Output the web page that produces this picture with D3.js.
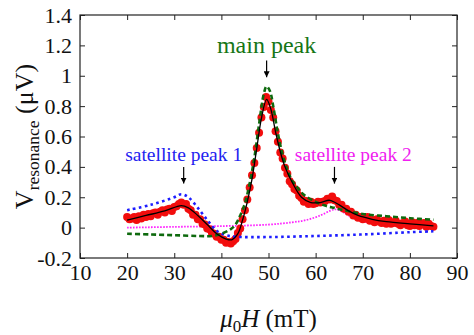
<!DOCTYPE html>
<html>
<head>
<meta charset="utf-8">
<script src="https://cdn.jsdelivr.net/npm/d3@7"></script>
<style>
  html, body { margin: 0; padding: 0; background: #fff; }
  svg, svg text { font-family: "Liberation Serif", "Times New Roman", serif; }
</style>
</head>
<body>
<div id="chart"></div>
<script>
const SERIF = '"Liberation Serif", "Times New Roman", serif';

// Measured signal (red dots)
const fieldMT = [
  20, 20.5, 21, 21.5, 22, 22.5, 23, 23.5, 24, 24.5, 25, 25.5, 26, 26.5, 27, 27.5, 28, 28.5, 29, 29.5,
  30, 30.5, 31, 31.5, 32, 32.5, 33, 33.5, 34, 34.5, 35, 35.5, 36, 36.5, 37, 37.5, 38, 38.5, 39, 39.5,
  40, 40.5, 41, 41.5, 42, 42.5, 43, 43.5, 44, 44.5, 45, 45.5, 46, 46.5, 47, 47.5, 48, 48.5, 49, 49.5,
  50, 50.5, 51, 51.5, 52, 52.5, 53, 53.5, 54, 54.5, 55, 55.5, 56, 56.5, 57, 57.5, 58, 58.5, 59, 59.5,
  60, 60.5, 61, 61.5, 62, 62.5, 63, 63.5, 64, 64.5, 65, 65.5, 66, 66.5, 67, 67.5, 68, 68.5, 69, 69.5,
  70, 70.5, 71, 71.5, 72, 72.5, 73, 73.5, 74, 74.5, 75, 75.5, 76, 76.5, 77, 77.5, 78, 78.5, 79, 79.5,
  80, 80.5, 81, 81.5, 82, 82.5, 83, 83.5, 84, 84.5, 85
];
const measured = [
  0.07, 0.055, 0.06, 0.07, 0.05, 0.075, 0.06, 0.085, 0.07, 0.09, 0.075, 0.095, 0.1, 0.085, 0.105, 0.115, 0.1, 0.12, 0.125, 0.11,
  0.135, 0.14, 0.155, 0.165, 0.15, 0.155, 0.125, 0.115, 0.085, 0.085, 0.055, 0.055, 0.025, 0.02, -0.005, -0.01, -0.035, -0.04, -0.06, -0.06,
  -0.08, -0.08, -0.1, -0.095, -0.105, -0.09, -0.075, -0.035, -0.005, 0.055, 0.115, 0.185, 0.265, 0.345, 0.425, 0.525, 0.625, 0.725, 0.795, 0.86,
  0.83, 0.775, 0.725, 0.635, 0.565, 0.495, 0.455, 0.395, 0.355, 0.305, 0.285, 0.255, 0.245, 0.21, 0.195, 0.17, 0.175, 0.155, 0.17, 0.155,
  0.16, 0.17, 0.165, 0.17, 0.175, 0.19, 0.185, 0.205, 0.18, 0.175, 0.15, 0.15, 0.125, 0.125, 0.105, 0.105, 0.08, 0.085, 0.065, 0.07,
  0.055, 0.06, 0.07, 0.045, 0.05, 0.035, 0.055, 0.04, 0.03, 0.045, 0.025, 0.05, 0.025, 0.03, 0.045, 0.025, 0.015, 0.03, 0.04, 0.015,
  0.01, 0.035, 0.015, 0.03, 0.01, 0.025, 0.03, 0.005, 0.025, 0.01, 0.005
];

// Total fit (black line)
const fitX = [20, 24, 28, 31.5, 33, 35, 37, 39, 41, 42.2, 43.5, 44.5, 45.5, 46.5, 47.5, 48.5, 49.6, 50.5, 51.5, 52.5, 53.5, 55, 57, 59, 61, 63, 65, 67, 69, 72, 75, 80, 85];
const fitY = [0.05, 0.08, 0.11, 0.145, 0.13, 0.08, 0.02, -0.04, -0.075, -0.08, -0.04, 0.05, 0.17, 0.32, 0.52, 0.72, 0.845, 0.78, 0.63, 0.5, 0.4, 0.3, 0.2, 0.165, 0.165, 0.18, 0.15, 0.11, 0.08, 0.055, 0.04, 0.025, 0.012];

// Main peak component (green dashed)
const mainX = [20, 25, 30, 35, 38, 40, 42, 43, 44, 45, 46, 47, 48, 49, 49.6, 50.3, 51, 52, 53, 54, 55, 56, 57, 58, 60, 62, 64, 66, 70, 75, 80, 85];
const mainY = [-0.04, -0.045, -0.05, -0.055, -0.055, -0.04, -0.01, 0.02, 0.08, 0.16, 0.29, 0.46, 0.68, 0.88, 0.93, 0.9, 0.8, 0.62, 0.48, 0.38, 0.31, 0.27, 0.23, 0.205, 0.17, 0.145, 0.13, 0.115, 0.09, 0.075, 0.062, 0.052];

// Satellite peak 1 component (blue dotted)
const sat1X = [20, 25, 30, 31.5, 33, 35, 37, 39, 41, 43, 50, 60, 70, 80, 85];
const sat1Y = [0.115, 0.15, 0.2, 0.22, 0.2, 0.13, 0.05, -0.02, -0.05, -0.06, -0.062, -0.055, -0.045, -0.03, -0.024];

// Satellite peak 2 component (magenta dotted)
const sat2X = [20, 30, 40, 50, 55, 58, 61, 63, 64, 65, 67, 69, 72, 76, 80, 85];
const sat2Y = [0.0, 0.005, 0.01, 0.02, 0.035, 0.05, 0.08, 0.11, 0.12, 0.115, 0.08, 0.05, 0.03, 0.02, 0.015, 0.012];

// Annotations
const noteText = ["main peak", "satellite peak 1", "satellite peak 2"];
const noteTextX = [49.6, 32, 68];
const noteTextY = [1.15, 0.44, 0.44];
const noteArrowX = [49.6, 32, 64];
const noteArrowTop = [1.1, 0.4, 0.4];
const noteArrowBottom = [0.99, 0.29, 0.29];
const noteColor = ["#167616", "#2323f0", "#f020f0"];
const noteSize = [24, 19.5, 19.5];

const xTicks = [10, 20, 30, 40, 50, 60, 70, 80, 90];
const yTicks = [-0.2, 0, 0.2, 0.4, 0.6, 0.8, 1, 1.2, 1.4];

const W = 474, H = 335;
const plot = { left: 80, right: 457, top: 15, bottom: 258 };

const x = d3.scaleLinear().domain([10, 90]).range([plot.left, plot.right]);
const y = d3.scaleLinear().domain([-0.2, 1.4]).range([plot.bottom, plot.top]);

const svg = d3.select('#chart').append('svg')
  .attr('width', W)
  .attr('height', H)
  .attr('font-family', SERIF);

const fmt = (d) => String(+d.toFixed(1));

// Axes with inward ticks
const tickLen = 5;
const styleAxis = (g) => {
  g.attr('font-family', SERIF);
  g.select('.domain').remove();
  g.selectAll('text').attr('font-size', 22).attr('fill', '#111');
};

svg.append('g')
  .attr('transform', `translate(0,${plot.bottom})`)
  .call(d3.axisBottom(x).tickValues(xTicks).tickSizeInner(-tickLen).tickSizeOuter(0).tickPadding(6).tickFormat(fmt))
  .call(styleAxis);

svg.append('g')
  .attr('transform', `translate(${plot.left},0)`)
  .call(d3.axisLeft(y).tickValues(yTicks).tickSizeInner(-tickLen).tickSizeOuter(0).tickPadding(8).tickFormat(fmt))
  .call(styleAxis);

svg.append('g')
  .attr('transform', `translate(0,${plot.top})`)
  .call(d3.axisTop(x).tickValues(xTicks).tickSizeInner(-tickLen).tickSizeOuter(0).tickFormat(''))
  .call(styleAxis);

svg.append('g')
  .attr('transform', `translate(${plot.right},0)`)
  .call(d3.axisRight(y).tickValues(yTicks).tickSizeInner(-tickLen).tickSizeOuter(0).tickFormat(''))
  .call(styleAxis);

svg.selectAll('.tick line').attr('stroke', '#222');

// Frame
svg.append('rect')
  .attr('x', plot.left)
  .attr('y', plot.top)
  .attr('width', plot.right - plot.left)
  .attr('height', plot.bottom - plot.top)
  .attr('fill', 'none')
  .attr('stroke', '#222')
  .attr('stroke-width', 1.2);

const line = (xs, ys) => d3.line()
  .x((d, i) => x(xs[i]))
  .y((d, i) => y(ys[i]))
  .curve(d3.curveCatmullRom.alpha(0.5))(xs);

// Satellite peak 2 (magenta dotted)
svg.append('path')
  .attr('d', line(sat2X, sat2Y))
  .attr('fill', 'none')
  .attr('stroke', '#ff20ff')
  .attr('stroke-width', 1.8)
  .attr('stroke-dasharray', '1.6,1.4');

// Measured data
svg.append('g')
  .selectAll('circle')
  .data(fieldMT)
  .join('circle')
  .attr('cx', (d) => x(d))
  .attr('cy', (d, i) => y(measured[i]))
  .attr('r', 4)
  .attr('fill', '#f20d0d');

// Satellite peak 1 (blue dotted)
svg.append('path')
  .attr('d', line(sat1X, sat1Y))
  .attr('fill', 'none')
  .attr('stroke', '#1d1dff')
  .attr('stroke-width', 2.6)
  .attr('stroke-dasharray', '2.6,3.4');

// Main peak (green dashed)
svg.append('path')
  .attr('d', line(mainX, mainY))
  .attr('fill', 'none')
  .attr('stroke', '#0e6a0e')
  .attr('stroke-width', 2.6)
  .attr('stroke-dasharray', '5,3');

// Total fit
svg.append('path')
  .attr('d', line(fitX, fitY))
  .attr('fill', 'none')
  .attr('stroke', '#000')
  .attr('stroke-width', 1.3);

// Annotations with arrows
svg.append('defs').append('marker')
  .attr('id', 'arrow')
  .attr('viewBox', '0 0 10 10')
  .attr('refX', 10)
  .attr('refY', 5)
  .attr('markerWidth', 6)
  .attr('markerHeight', 6)
  .attr('markerUnits', 'userSpaceOnUse')
  .attr('orient', 'auto')
  .append('path')
  .attr('d', 'M0,0L10,5L0,10Z')
  .attr('fill', '#000');

const notes = svg.append('g');
noteText.forEach((t, i) => {
  notes.append('text')
    .attr('x', x(noteTextX[i]))
    .attr('y', y(noteTextY[i]))
    .attr('text-anchor', 'middle')
    .attr('font-family', SERIF)
    .attr('font-size', noteSize[i])
    .attr('fill', noteColor[i])
    .text(t);
  notes.append('line')
    .attr('x1', x(noteArrowX[i]))
    .attr('x2', x(noteArrowX[i]))
    .attr('y1', y(noteArrowTop[i]))
    .attr('y2', y(noteArrowBottom[i]))
    .attr('stroke', '#000')
    .attr('stroke-width', 1.2)
    .attr('marker-end', 'url(#arrow)');
});

// Axis titles
const xTitle = svg.append('text')
  .attr('x', (plot.left + plot.right) / 2)
  .attr('y', 327)
  .attr('text-anchor', 'middle')
  .attr('font-family', SERIF)
  .attr('font-size', 25)
  .attr('fill', '#111');
xTitle.append('tspan').attr('font-style', 'italic').text('μ');
xTitle.append('tspan').attr('font-size', 17).attr('dy', 5).text('0');
xTitle.append('tspan').attr('font-style', 'italic').attr('dy', -5).text('H');
xTitle.append('tspan').text(' (mT)');

const yTitle = svg.append('text')
  .attr('transform', `translate(33,${(plot.top + plot.bottom) / 2}) rotate(-90)`)
  .attr('text-anchor', 'middle')
  .attr('font-family', SERIF)
  .attr('font-size', 26)
  .attr('fill', '#111');
yTitle.append('tspan').text('V');
yTitle.append('tspan').attr('font-size', 17.5).attr('dy', 6).text('resonance');
yTitle.append('tspan').attr('dy', -6).text(' (μV)');
</script>
</body>
</html>
